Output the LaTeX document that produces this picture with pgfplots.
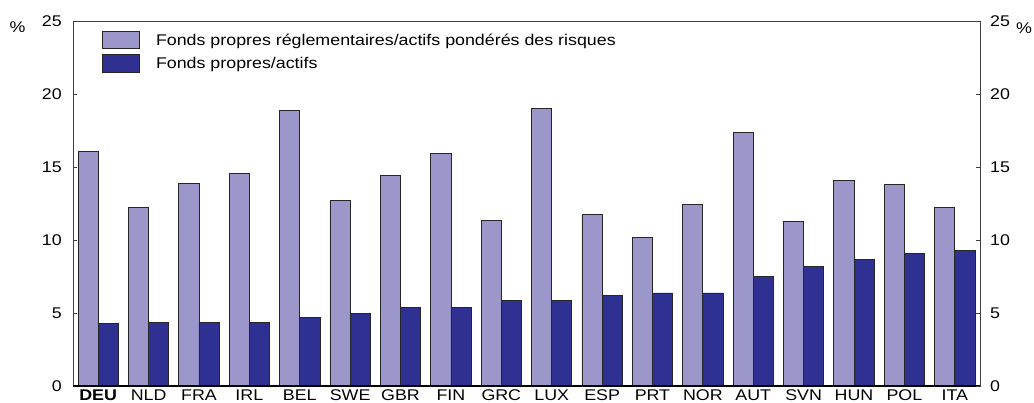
\documentclass[border=0pt]{standalone}
\usepackage{fontspec}
\setmainfont{Liberation Sans}[FakeStretch=1.15]
\usepackage{pgfplots}
\pgfplotsset{compat=1.18}
\definecolor{lightbar}{RGB}{156,151,202}
\definecolor{darkbar}{RGB}{46,49,146}
\newcommand{\chartfont}{\fontsize{15.5}{18}\selectfont}
\begin{document}
\begin{tikzpicture}
\path[use as bounding box] (-73pt,-17pt) rectangle (961pt,386pt);
\begin{axis}[
  at={(0pt,0pt)}, anchor=south west,
  scale only axis, width=907pt, height=365pt,
  xmin=-0.5, xmax=17.5, ymin=0, ymax=25,
  ytick={0,5,10,15,20,25},
  xtick={0,...,17},
  xticklabels={\textbf{DEU},NLD,FRA,IRL,BEL,SWE,GBR,FIN,GRC,LUX,ESP,PRT,NOR,AUT,SVN,HUN,POL,ITA},
  x tick style={draw=none},
  y tick style={black!75, line width=0.8pt},
  major tick length=4pt,
  tick align=inside,
  ytick pos=left,
  axis line style={black!75, line width=0.8pt},
  tick label style={font=\chartfont, /pgf/number format/assume math mode=true},
  yticklabel style={anchor=east, inner sep=0pt, xshift=-11pt},
  xticklabel style={anchor=north, inner sep=0pt, yshift=-3.5pt},
  bar width=0.4,
  legend style={draw=none, fill=none, at={(0.032,0.9734)}, anchor=north west,
    font=\chartfont, row sep=5pt, inner sep=0pt,
    /tikz/every even column/.append style={column sep=0pt}},
  legend cell align=left,
  legend image code/.code={\draw[#1] (0pt,-8.75pt) rectangle (37pt,8.75pt);},
  clip=false,
]
\addplot[ybar, bar shift=-0.2, fill=lightbar, draw=black!85, line width=0.8pt] coordinates {
(0,16.05) (1,12.25) (2,13.85) (3,14.55) (4,18.85) (5,12.7) (6,14.45) (7,15.9) (8,11.35)
(9,19.0) (10,11.75) (11,10.15) (12,12.45) (13,17.35) (14,11.3) (15,14.1) (16,13.8) (17,12.25)};
\addlegendentry{\hspace{14pt}Fonds propres réglementaires/actifs pondérés des risques}
\addplot[ybar, bar shift=0.2, fill=darkbar, draw=black!85, line width=0.8pt] coordinates {
(0,4.28) (1,4.38) (2,4.38) (3,4.38) (4,4.7) (5,4.97) (6,5.4) (7,5.4) (8,5.86)
(9,5.86) (10,6.2) (11,6.37) (12,6.37) (13,7.48) (14,8.2) (15,8.68) (16,9.07) (17,9.3)};
\addlegendentry{\hspace{14pt}Fonds propres/actifs}
\draw[black, line width=1.8pt] (rel axis cs:0,0) -- (rel axis cs:1,0);
\node[font=\chartfont, anchor=center] at ([xshift=-55.5pt,yshift=-6.5pt]rel axis cs:0,1) {\%};
\node[font=\chartfont, anchor=center] at ([xshift=44pt,yshift=-7pt]rel axis cs:1,1) {\%};
\end{axis}
\begin{axis}[
  at={(0pt,0pt)}, anchor=south west,
  scale only axis, width=907pt, height=365pt,
  xmin=-0.5, xmax=17.5, ymin=0, ymax=25,
  ytick={0,5,10,15,20,25},
  axis x line=none,
  axis y line*=right,
  y tick style={black!75, line width=0.8pt},
  major tick length=4pt,
  tick align=inside,
  axis line style={black!75, line width=0.8pt},
  tick label style={font=\chartfont, /pgf/number format/assume math mode=true},
  yticklabel style={anchor=west, inner sep=0pt, xshift=10pt},
]
\end{axis}
\end{tikzpicture}
\end{document}
